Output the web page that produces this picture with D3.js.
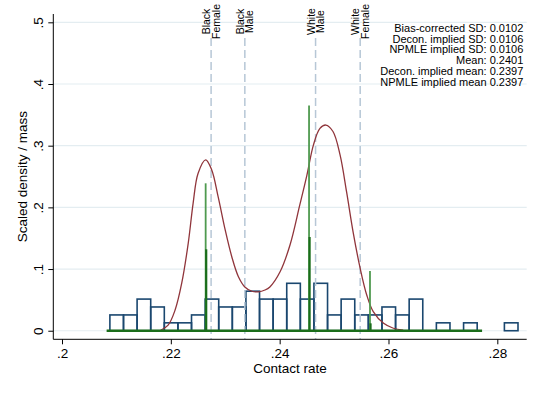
<!DOCTYPE html>
<html>
<head>
<meta charset="utf-8">
<script src="https://cdn.jsdelivr.net/npm/d3@7"></script>
<style>
  body { margin: 0; background: #fff; }
  svg { font-family: "Liberation Sans", Arial, sans-serif; }
</style>
</head>
<body>
<div id="chart"></div>
<script>
// histogram bins (left edge) and mass
const binLeft = [0.2088, 0.2113, 0.2138, 0.2163, 0.2188, 0.2213, 0.2238, 0.2263, 0.2288, 0.2313,
                 0.2338, 0.2363, 0.2388, 0.2413, 0.2438, 0.2463, 0.2488, 0.2513, 0.2538, 0.2563,
                 0.2588, 0.2613, 0.2638, 0.2688, 0.2738, 0.2813];
const binMass = [0.0256, 0.0256, 0.0513, 0.0385, 0.0128, 0.0128, 0.0256, 0.0513, 0.0385, 0.0385,
                 0.0641, 0.0513, 0.0513, 0.0769, 0.0513, 0.0769, 0.0256, 0.0513, 0.0256, 0.0256,
                 0.0385, 0.0256, 0.0513, 0.0128, 0.0128, 0.0128];
const binWidth = 0.0025;

// deconvolved density (scaled)
const densX = [0.2180, 0.2195, 0.2208, 0.2220, 0.2232, 0.2241, 0.2250, 0.2264, 0.2275, 0.2287,
               0.2300, 0.2312, 0.2324, 0.2336, 0.2349, 0.2361, 0.2373, 0.2382, 0.2401, 0.2419,
               0.2437, 0.2450, 0.2462, 0.2474, 0.2485, 0.2498, 0.2511, 0.2523, 0.2535, 0.2548,
               0.2560, 0.2572, 0.2591, 0.2609, 0.2627];
const densY = [0.000, 0.009, 0.034, 0.077, 0.142, 0.207, 0.255, 0.277, 0.261, 0.217,
               0.163, 0.120, 0.088, 0.071, 0.064, 0.063, 0.066, 0.071, 0.096, 0.139,
               0.204, 0.252, 0.301, 0.328, 0.3335, 0.323, 0.285, 0.225, 0.160, 0.101,
               0.058, 0.031, 0.012, 0.004, 0.001];

// NPMLE masses
const npmleX = [0.2264, 0.2454, 0.2566];
const npmleM = [0.239, 0.365, 0.097];
const npmleX2 = [0.2265, 0.2455, 0.2567];
const npmleM2 = [0.132, 0.152, 0.012];
const npmleRange = [0.2082, 0.2772];

// group reference lines
const groupNames = [["Black", "Female"], ["Black", "Male"], ["White", "Male"], ["White", "Female"]];
const groupRates = [0.2274, 0.2336, 0.2466, 0.2548];

const noteLines = ["Bias-corrected SD: 0.0102", "Decon. implied SD: 0.0106", "NPMLE implied SD: 0.0106",
                   "Mean: 0.2401", "Decon. implied mean: 0.2397", "NPMLE implied mean 0.2397"];

const xTicks = [0.2, 0.22, 0.24, 0.26, 0.28];
const xTickLabels = [".2", ".22", ".24", ".26", ".28"];
const yTicks = [0, 0.1, 0.2, 0.3, 0.4, 0.5];
const yTickLabels = ["0", ".1", ".2", ".3", ".4", ".5"];

const W = 540, H = 393;
const L = 53.3, R = 526.7, T = 14, B = 339.3;

const svg = d3.select("#chart").append("svg").attr("width", W).attr("height", H);

const x = d3.scaleLinear().domain([0.1984, 0.2854]).range([L, R]);
const y = d3.scaleLinear().domain([-0.0139, 0.5135]).range([B, T]);

// gridlines
svg.selectAll("line.grid").data(yTicks).enter().append("line")
  .attr("x1", L).attr("x2", R)
  .attr("y1", d => y(d)).attr("y2", d => y(d))
  .attr("stroke", "#e4edf1").attr("stroke-width", 1.2);

// histogram
svg.selectAll("rect.bar").data(binLeft).enter().append("rect")
  .attr("x", d => x(d))
  .attr("width", x(binWidth) - x(0))
  .attr("y", (d, i) => y(binMass[i]))
  .attr("height", (d, i) => y(0) - y(binMass[i]))
  .attr("fill", "none").attr("stroke", "#1a476f").attr("stroke-width", 1.6);

// dashed group lines
svg.selectAll("line.grp").data(groupRates).enter().append("line")
  .attr("x1", d => x(d)).attr("x2", d => x(d))
  .attr("y1", 38).attr("y2", B)
  .attr("stroke", "#b7c7d6").attr("stroke-width", 1.5)
  .attr("stroke-dasharray", "8,4");

const lbl = svg.selectAll("g.lbl").data(groupRates).enter().append("g")
  .attr("transform", d => `translate(${x(d)},21.5) rotate(-90)`);
lbl.append("text")
  .attr("text-anchor", "middle").attr("font-size", 10.5).attr("fill", "#000")
  .selectAll("tspan").data((d, i) => groupNames[i]).enter().append("tspan")
  .attr("x", 0).attr("y", (d, j) => j === 0 ? -1 : 8.4)
  .text(d => d);

// density curve
const line = d3.line().x(d => x(d[0])).y(d => y(d[1])).curve(d3.curveCatmullRom);
svg.append("path").datum(densX.map((d, i) => [d, densY[i]]))
  .attr("d", line).attr("fill", "none")
  .attr("stroke", "#90353b").attr("stroke-width", 1.3);

// NPMLE spikes
svg.selectAll("line.sp1").data(npmleX).enter().append("line")
  .attr("x1", d => x(d)).attr("x2", d => x(d))
  .attr("y1", y(0)).attr("y2", (d, i) => y(npmleM[i]))
  .attr("stroke", "#4f9a4f").attr("stroke-width", 1.8);
svg.selectAll("line.sp2").data(npmleX2).enter().append("line")
  .attr("x1", d => x(d)).attr("x2", d => x(d))
  .attr("y1", y(0)).attr("y2", (d, i) => y(npmleM2[i]))
  .attr("stroke", "#1a6d1a").attr("stroke-width", 2.2);
svg.append("line")
  .attr("x1", x(npmleRange[0])).attr("x2", x(npmleRange[1]))
  .attr("y1", y(0)).attr("y2", y(0))
  .attr("stroke", "#1a6d1a").attr("stroke-width", 2.4);

// axes
const xAxis = svg.append("g").attr("transform", `translate(0,${B})`)
  .call(d3.axisBottom(x).tickValues(xTicks).tickFormat((d, i) => xTickLabels[i]).tickSize(5).tickPadding(4));
xAxis.select(".domain").attr("d", `M${L},0H${R}`).attr("stroke", "#000");
xAxis.selectAll("text").attr("font-size", 13.5).attr("fill", "#000").attr("font-family", "Liberation Sans, Arial, sans-serif");
xAxis.selectAll(".tick line").attr("stroke", "#000");

const yAxis = svg.append("g").attr("transform", `translate(${L},0)`)
  .call(d3.axisLeft(y).tickValues(yTicks).tickFormat((d, i) => yTickLabels[i]).tickSize(5));
yAxis.select(".domain").attr("d", `M0,${T}V${B}`).attr("stroke", "#000");
yAxis.selectAll(".tick line").attr("stroke", "#000");
yAxis.selectAll("text")
  .attr("font-size", 13.5).attr("fill", "#000").attr("font-family", "Liberation Sans, Arial, sans-serif")
  .attr("text-anchor", "middle").attr("dy", 0).attr("x", 0)
  .attr("transform", "translate(-10,0) rotate(-90)");

// axis titles
svg.append("text").attr("x", (L + R) / 2).attr("y", 373)
  .attr("text-anchor", "middle").attr("font-size", 13.5).text("Contact rate");
svg.append("text").attr("transform", `translate(27,${(T + B) / 2}) rotate(-90)`)
  .attr("text-anchor", "middle").attr("font-size", 13.5).text("Scaled density / mass");

// note block
svg.append("text").attr("text-anchor", "end").attr("font-size", 11)
  .selectAll("tspan").data(noteLines).enter().append("tspan")
  .attr("x", 523.3).attr("y", (d, i) => 31.6 + i * 10.9)
  .text(d => d);
</script>
</body>
</html>
